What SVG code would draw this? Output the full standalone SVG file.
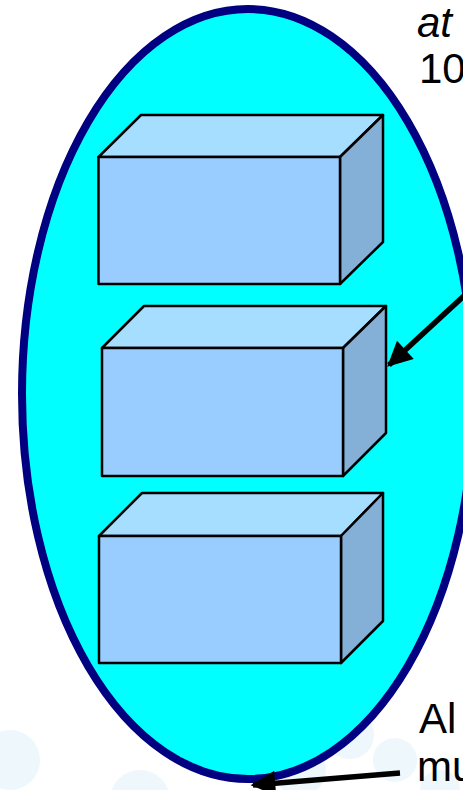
<svg xmlns="http://www.w3.org/2000/svg" width="463" height="790" viewBox="0 0 463 790">
<defs>
<style>
.front{fill:#99CCFF;stroke:#000;stroke-width:2.5;stroke-linejoin:round}
.top{fill:#A6DEFF;stroke:#000;stroke-width:2.5;stroke-linejoin:round}
.side{fill:#84B0D8;stroke:#000;stroke-width:2.5;stroke-linejoin:round}
.lbl{font-family:"Liberation Sans",Arial,sans-serif;font-size:42px;fill:#000}
.bub{fill:#EEF7FC}
.conn{stroke:#000;stroke-width:5.5;fill:none}
</style>
<marker id="ah" viewBox="0 0 10 10" refX="9" refY="5" markerWidth="5" markerHeight="4.5" orient="auto" markerUnits="strokeWidth">
<path d="M0,0 L10,5 L0,10 z" fill="#000"/>
</marker>
</defs>
<rect width="463" height="790" fill="#fff"/>
<g id="background">
<circle class="bub" cx="10" cy="760" r="30"/>
<circle class="bub" cx="140" cy="800" r="30"/>
<circle class="bub" cx="300" cy="770" r="26"/>
<circle class="bub" cx="350" cy="735" r="24"/>
<circle class="bub" cx="395" cy="760" r="22"/>
<circle class="bub" cx="440" cy="790" r="20"/>
</g>
<g id="ellipse">
<ellipse cx="248" cy="394" rx="226" ry="385" fill="#00FFFF" stroke="#000080" stroke-width="8"/>
</g>
<g id="box1">
<polygon class="top" points="98.5,157 141,115 383,115 340,157"/>
<polygon class="side" points="340,157 383,115 383,242 340,284"/>
<rect class="front" x="98.5" y="157" width="241.5" height="127"/>
</g>
<g id="box2">
<polygon class="top" points="102,348 144,306 386,306 343,348"/>
<polygon class="side" points="343,348 386,306 386,433 343,476"/>
<rect class="front" x="102" y="348" width="241" height="128"/>
</g>
<g id="box3">
<polygon class="top" points="99,536 142,493 383,493 341,536"/>
<polygon class="side" points="341,536 383,493 383,621 341,663"/>
<rect class="front" x="99" y="536" width="242" height="127"/>
</g>
<g id="connectors">
<line class="conn" x1="466" y1="294" x2="389" y2="365" marker-end="url(#ah)"/>
<line class="conn" x1="400" y1="773" x2="253" y2="785" marker-end="url(#ah)"/>
</g>
<g id="labels">
<text class="lbl" x="417" y="37" font-style="italic">at</text>
<text class="lbl" x="419" y="83">10</text>
<text class="lbl" x="419" y="733">Al</text>
<text class="lbl" x="417" y="781">mu</text>
</g>
</svg>
